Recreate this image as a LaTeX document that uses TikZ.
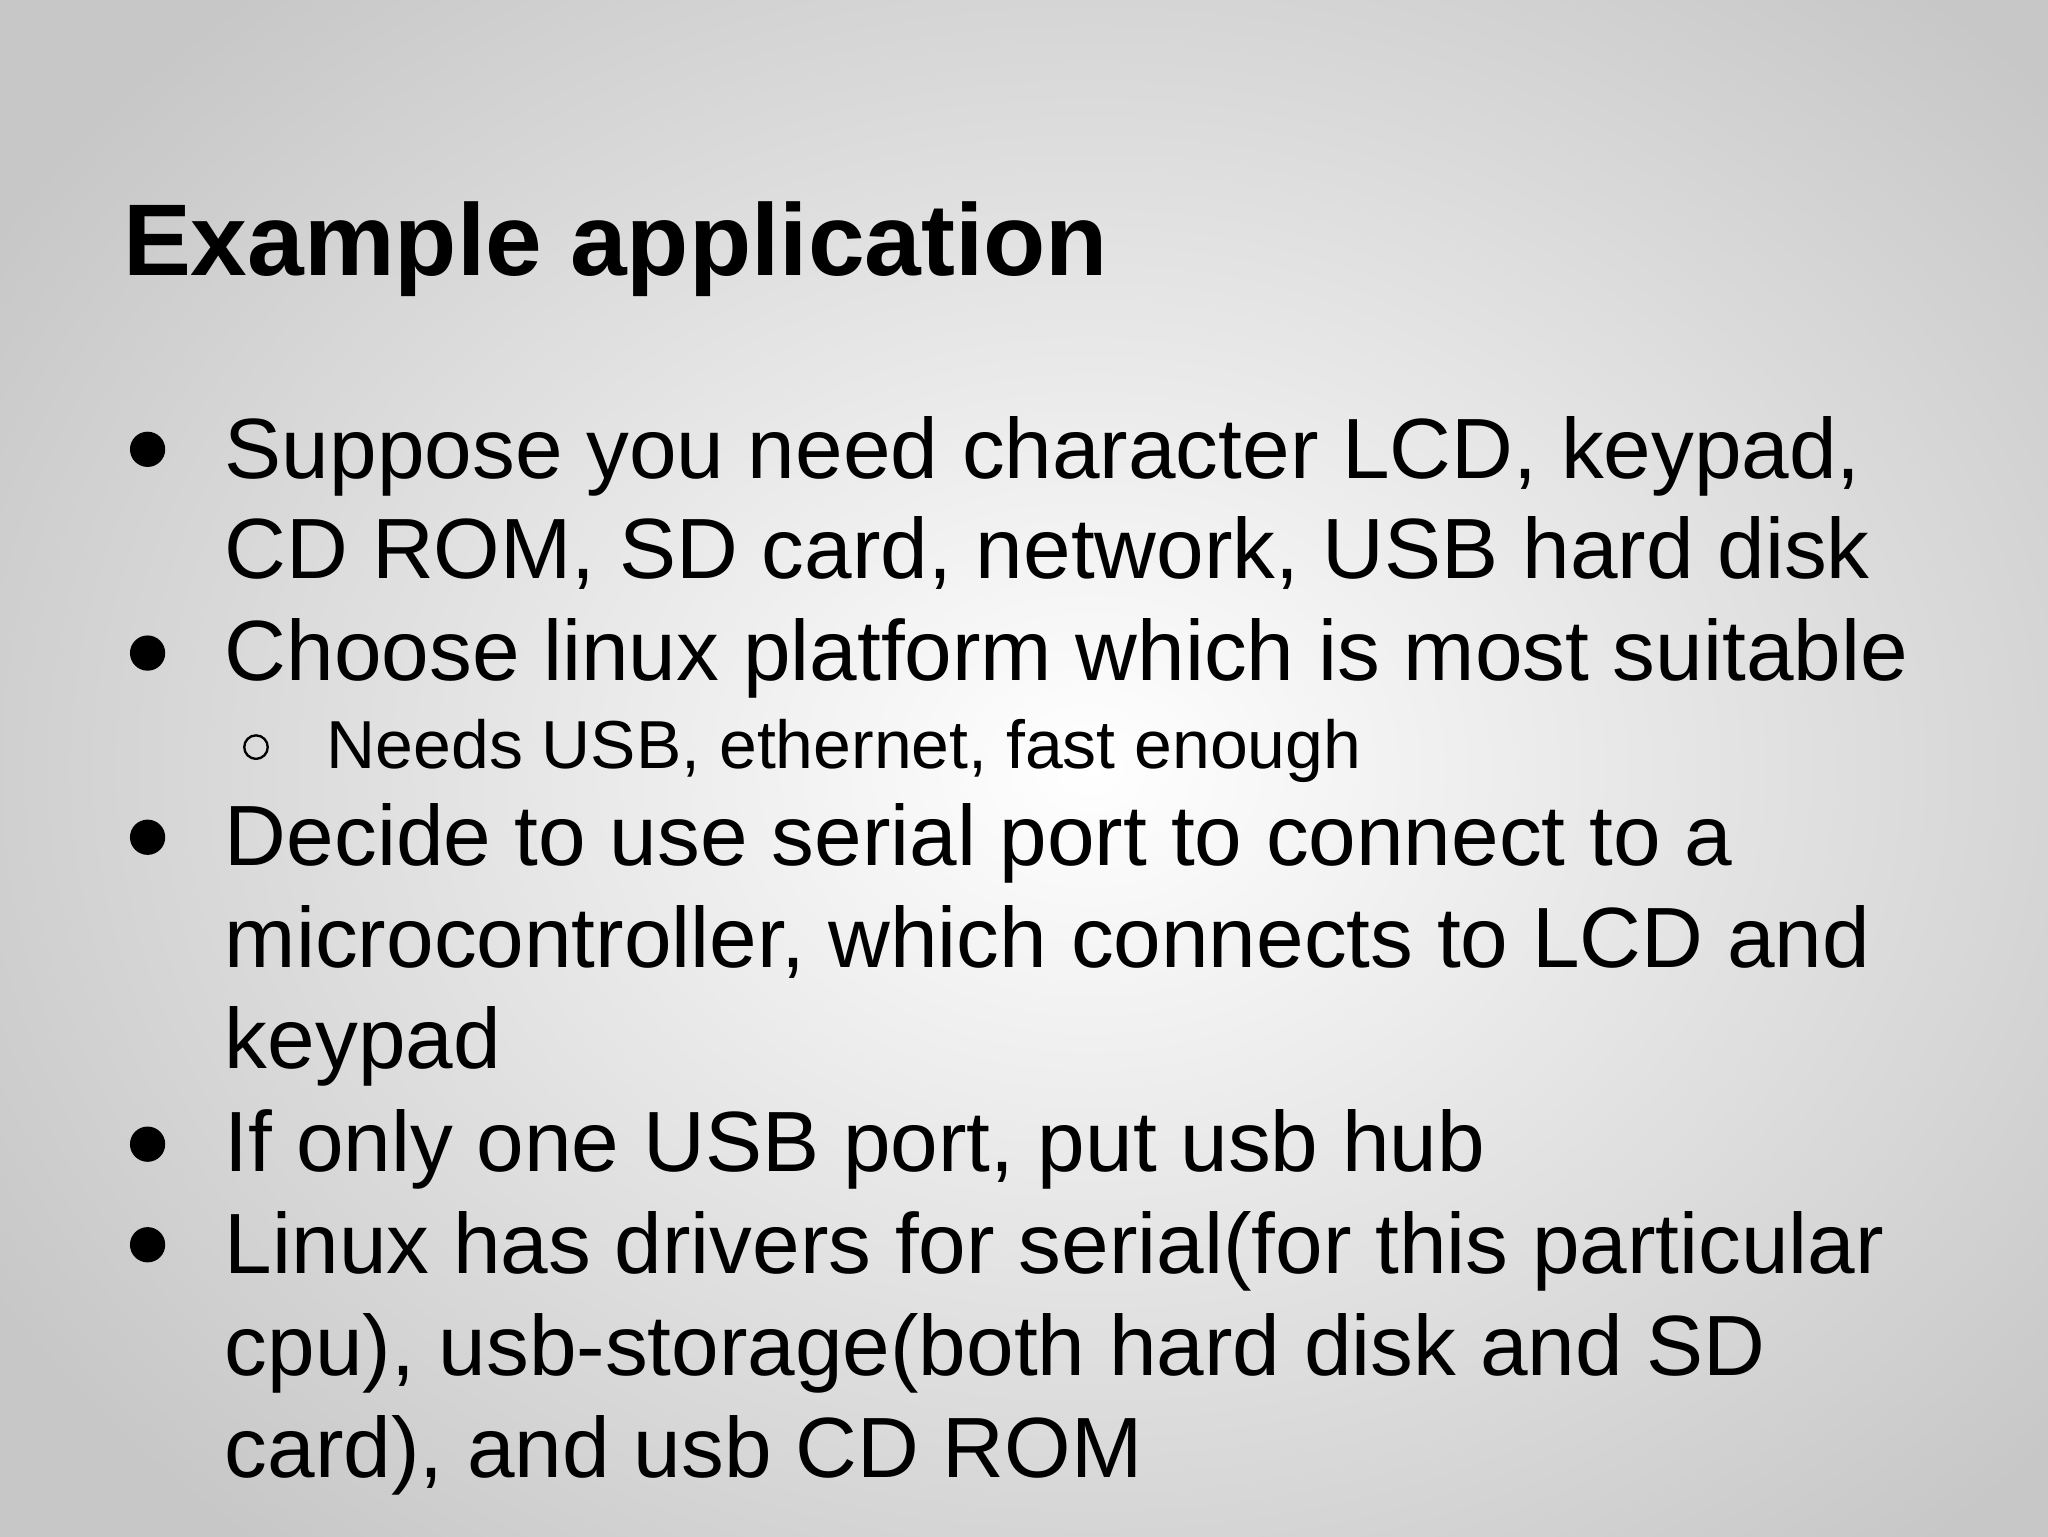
\documentclass[tikz,border=0pt]{standalone}
\usepackage{fontspec}
\setmainfont{Liberation Sans}
\begin{document}
\begin{tikzpicture}[x=1pt,y=-1pt,
  body/.style={anchor=base west,inner sep=0pt,font=\fontsize{65.5}{65.5}\selectfont},
  sub/.style={anchor=base west,inner sep=0pt,font=\fontsize{52}{52}\selectfont},
  dot/.style={fill=black,draw=none},
  ring/.style={draw=black,line width=1.8pt}]
\begin{scope}
\clip (0,0) rectangle (1568,1176);
\shade[inner color=white,outer color=black!22] (-150,-200) rectangle (1818,1376);
\end{scope}
\useasboundingbox (0,0) rectangle (1568,1176);
\node[anchor=base west,inner sep=0pt,font=\fontsize{78}{78}\selectfont\bfseries] (title) at (94,211) {Example application};
\foreach \y in {344,500,641,876,953}{\fill[dot] (113,\y) circle (13.5);}
\draw[ring] (196,572) circle (9);
\node[body] (l1) at (172,366) {Suppose you need character LCD, keypad,};
\node[body] (l2) at (172,443) {CD ROM, SD card, network, USB hard disk};
\node[body] (l3) at (172,521) {Choose linux platform which is most suitable};
\node[sub] (s1) at (250,588) {Needs USB, ethernet, fast enough};
\node[body] (l4) at (172,663) {Decide to use serial port to connect to a};
\node[body] (l5) at (172,741) {microcontroller, which connects to LCD and};
\node[body] (l6) at (172,818) {keypad};
\node[body] (l7) at (172,897) {If only one USB port, put usb hub};
\node[body] (l8) at (172,975) {Linux has drivers for serial(for this particular};
\node[body] (l9) at (172,1053) {cpu), usb-storage(both hard disk and SD};
\node[body] (l10) at (172,1131) {card), and usb CD ROM};
\end{tikzpicture}
\end{document}
